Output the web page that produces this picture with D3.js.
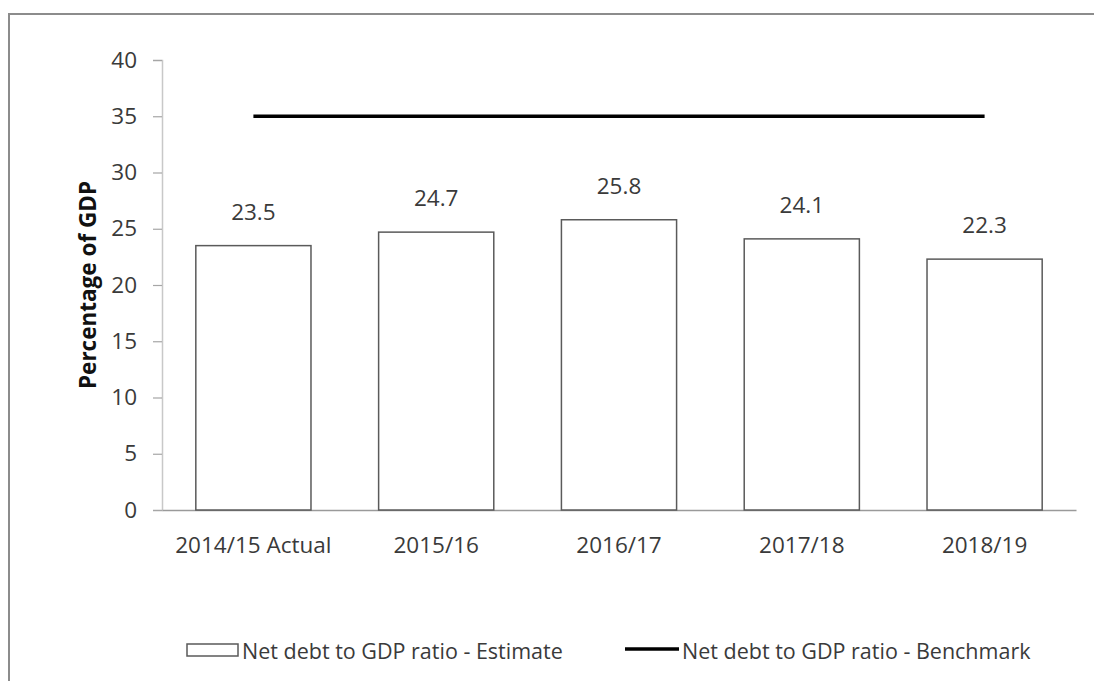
<!DOCTYPE html>
<html>
<head>
<meta charset="utf-8">
<script src="https://cdn.jsdelivr.net/npm/d3@7"></script>
<style>
  html, body { margin: 0; padding: 0; background: #ffffff; }
  svg { display: block; font-family: "Open Sans", sans-serif; }
</style>
</head>
<body>
<svg id="chart" width="1094" height="681"></svg>
<script>
// Net debt to GDP ratio, per fiscal year
const categories = ["2014/15 Actual", "2015/16", "2016/17", "2017/18", "2018/19"];
const estimate = [23.5, 24.7, 25.8, 24.1, 22.3];
const benchmark = [35, 35, 35, 35, 35];
const yTicks = [0, 5, 10, 15, 20, 25, 30, 35, 40];
const seriesNames = ["Net debt to GDP ratio - Estimate", "Net debt to GDP ratio - Benchmark"];
const yTitle = "Percentage of GDP";

const svg = d3.select("#chart");
const textColor = "#3a3a3a";

// outer frame
svg.append("rect")
  .attr("x", 9).attr("y", 14)
  .attr("width", 1120).attr("height", 720)
  .attr("fill", "none")
  .attr("stroke", "#8c8c8c")
  .attr("stroke-width", 2);

const plot = { left: 162, right: 1076, top: 60, bottom: 510 };

const x = d3.scaleBand()
  .domain(categories)
  .range([plot.left, plot.right])
  .paddingInner(0.37)
  .paddingOuter(0.185);

const y = d3.scaleLinear()
  .domain([0, 40])
  .range([plot.bottom, plot.top]);

// y axis
const yAxis = svg.append("g")
  .attr("transform", `translate(${plot.left},0)`)
  .call(d3.axisLeft(y).tickValues(yTicks).tickSize(9).tickPadding(16).tickFormat(d3.format("d")));
yAxis.select(".domain").attr("stroke", "#c8c8c8").attr("stroke-width", 1.5);
yAxis.selectAll(".tick line").attr("stroke", "#a6a6a6").attr("stroke-width", 1.2);
yAxis.selectAll(".tick text")
  .attr("fill", textColor)
  .style("font-size", "22.5px")
  .style("font-family", "'Open Sans', sans-serif");

// x axis baseline
const xAxis = svg.append("g")
  .attr("transform", `translate(0,${plot.bottom})`)
  .call(d3.axisBottom(x).tickSize(0).tickPadding(27).tickSizeOuter(0));
xAxis.select(".domain").attr("stroke", "#9a9a9a").attr("stroke-width", 1.5);
xAxis.selectAll(".tick text")
  .attr("fill", textColor)
  .style("font-size", "22.5px")
  .style("font-family", "'Open Sans', sans-serif");

// y axis title
svg.append("text")
  .attr("transform", `translate(96,${(plot.top + plot.bottom) / 2}) rotate(-90)`)
  .attr("text-anchor", "middle")
  .attr("fill", "#111")
  .style("font-weight", "bold")
  .style("font-size", "22.5px")
  .text(yTitle);

// estimate bars
svg.append("g").selectAll("rect")
  .data(estimate)
  .join("rect")
  .attr("x", (d, i) => x(categories[i]))
  .attr("y", d => y(d))
  .attr("width", x.bandwidth())
  .attr("height", d => y(0) - y(d))
  .attr("fill", "#ffffff")
  .attr("stroke", "#5a5a5a")
  .attr("stroke-width", 1.5);

// value labels
svg.append("g").selectAll("text")
  .data(estimate)
  .join("text")
  .attr("x", (d, i) => x(categories[i]) + x.bandwidth() / 2)
  .attr("y", d => y(d) - 26)
  .attr("text-anchor", "middle")
  .attr("fill", textColor)
  .style("font-size", "22.5px")
  .text(d => d3.format(".1f")(d));

// benchmark line
const line = d3.line()
  .x((d, i) => x(categories[i]) + x.bandwidth() / 2)
  .y(d => y(d));
svg.append("path")
  .datum(benchmark)
  .attr("d", line)
  .attr("fill", "none")
  .attr("stroke", "#000")
  .attr("stroke-width", 3.5);

// legend
const legendY = 650;
const lg = svg.append("g");
lg.append("rect")
  .attr("x", 187).attr("y", legendY - 6)
  .attr("width", 51).attr("height", 12)
  .attr("fill", "#fff").attr("stroke", "#5a5a5a").attr("stroke-width", 1.5);
lg.append("text")
  .attr("x", 242).attr("y", legendY)
  .attr("dominant-baseline", "central")
  .attr("fill", textColor)
  .style("font-size", "21.5px")
  .text(seriesNames[0]);
lg.append("line")
  .attr("x1", 625).attr("x2", 679)
  .attr("y1", legendY - 1).attr("y2", legendY - 1)
  .attr("stroke", "#000").attr("stroke-width", 3.5);
lg.append("text")
  .attr("x", 682).attr("y", legendY)
  .attr("dominant-baseline", "central")
  .attr("fill", textColor)
  .style("font-size", "21.5px")
  .text(seriesNames[1]);
</script>
</body>
</html>
